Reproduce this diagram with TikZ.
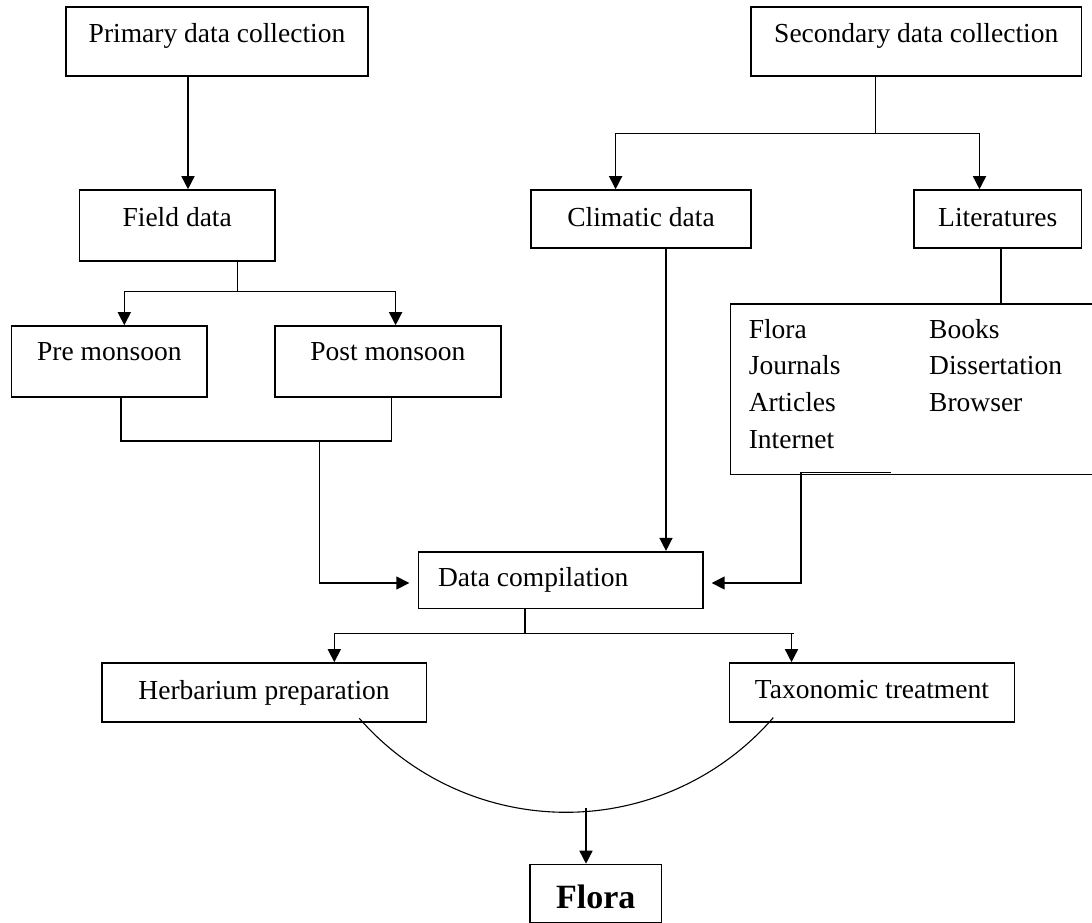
\documentclass[tikz,border=0pt]{standalone}
\usepackage{fontspec}
\setmainfont{Liberation Serif}
\usetikzlibrary{arrows.meta}
\tikzset{
  box/.style={draw, line width=1.6pt, inner sep=0pt, anchor=base, font=\fontsize{27.5}{36.6}\selectfont},
  conn/.style={line width=1.5pt},
  thinconn/.style={line width=1.1pt},
  arr/.style={conn, -{Triangle[length=13pt,width=13pt]}},
  curv/.style={line width=1.1pt},
}
\begin{document}
\begin{tikzpicture}[x=1pt,y=-1pt]
\clip (0,0) rectangle (1092,922);
\fill[white] (0,0) rectangle (1092,922);

% boxes
\node[box, minimum width=302pt, text height=35pt, text depth=34pt] (prim) at (217,42) {Primary data collection};
\node[box, minimum width=330.5pt, text height=35pt, text depth=34pt] (sec) at (916.25,42) {Secondary data collection};
\node[box, minimum width=195.6pt, text height=36.7pt, text depth=34.3pt] (field) at (177.2,226.7) {Field data};
\node[box, minimum width=220pt, text height=36pt, text depth=22pt] (clim) at (641,226) {Climatic data};
\node[box, minimum width=167.5pt, text height=36pt, text depth=22pt] (lit) at (997.75,226) {Literatures};
\node[box, minimum width=195.7pt, text height=34.7pt, text depth=36pt] (pre) at (109.35,360.7) {Pre monsoon};
\node[box, minimum width=225.7pt, text height=34.7pt, text depth=36pt] (post) at (387.85,360.7) {Post monsoon};
\node[box, anchor=north west, minimum width=370pt, minimum height=170.5pt] (list) at (729.5,303) {};
\node[anchor=base west, inner sep=0pt, font=\fontsize{27.5}{36.6}\selectfont] (listtext) at (748.6,338.3)
  {\begin{tabular}[t]{@{}p{180.4pt}@{}l@{}}Flora & Books\\ Journals & Dissertation\\ Articles & Browser\\ Internet & \end{tabular}};
\node[box, anchor=base west, inner xsep=19.6pt, inner ysep=0pt, text height=35pt, text depth=21.8pt] (comp) at (417.7,586.7) {\makebox[245pt][l]{Data compilation}};
\node[box, minimum width=324.8pt, text height=36pt, text depth=22.7pt] (herb) at (264.1,699) {Herbarium preparation};
\node[box, minimum width=284.8pt, text height=35pt, text depth=24pt] (tax) at (871.9,698) {Taxonomic treatment};
\node[box, minimum width=131.5pt, text height=43.5pt, text depth=14.3pt, font=\fontsize{34}{40}\selectfont\bfseries] (flora) at (595.75,908) {Flora};

% primary -> field
\coordinate (a1) at (188,0);
\draw[arr] (prim.south -| a1) -- (field.north -| a1);

% field -> pre / post
\coordinate (f1) at (237.5,291.7);
\coordinate (f2) at (124.3,291.7);
\coordinate (f3) at (395.6,291.7);
\draw[thinconn] (field.south -| f1) -- (f1);
\draw[conn] (f2) -- (f3);
\draw[arr] (f2) -- (pre.north -| f2);
\draw[arr] (f3) -- (post.north -| f3);

% secondary -> climatic / literatures
\coordinate (s1) at (875.7,133.3);
\coordinate (s2) at (615.6,133.3);
\coordinate (s3) at (979.5,133.3);
\draw[conn] (sec.south -| s1) -- (s1);
\draw[conn] (s2) -- (s3);
\draw[arr] (s2) -- (clim.north -| s2);
\draw[arr] (s3) -- (lit.north -| s3);

% climatic -> compilation
\coordinate (c1) at (666,0);
\draw[arr] (clim.south -| c1) -- (comp.north -| c1);

% literatures -> list
\coordinate (l1) at (1001,0);
\draw[conn] (lit.south -| l1) -- (list.north -| l1);

% pre / post -> compilation
\coordinate (p1) at (120.8,441);
\coordinate (p2) at (391.7,441);
\coordinate (p3) at (319.6,441);
\coordinate (p4) at (319.6,583);
\coordinate (p5) at (409.3,583);
\draw[conn] (pre.south -| p1) -- (p1) -- (p2) -- (post.south -| p2);
\draw[arr] (p3) -- (p4) -- (p5);

% list -> compilation
\coordinate (q0) at (890.7,472.3);
\coordinate (q1) at (801,472.3);
\coordinate (q2) at (801,583);
\coordinate (q3) at (711.7,583);
\draw[arr] (q0) -- (q1) -- (q2) -- (q3);

% compilation -> herbarium / taxonomic
\coordinate (d1) at (525,633.3);
\coordinate (d2) at (334.3,633.3);
\coordinate (d3) at (794.3,633.3);
\coordinate (d4) at (791.5,633.3);
\draw[conn] (comp.south -| d1) -- (d1);
\draw[conn] (d2) -- (d3);
\draw[arr] (d2) -- (herb.north -| d2);
\draw[arr] (d4) -- (tax.north -| d4);

% curve and flora
\coordinate (k0) at (359.3,718.3);
\draw[curv] (k0) arc[start angle=221.1, end angle=319.1, radius=274.3pt];
\coordinate (k1) at (586,808.3);
\draw[arr] (k1) -- (flora.north -| k1);
\end{tikzpicture}
\end{document}
